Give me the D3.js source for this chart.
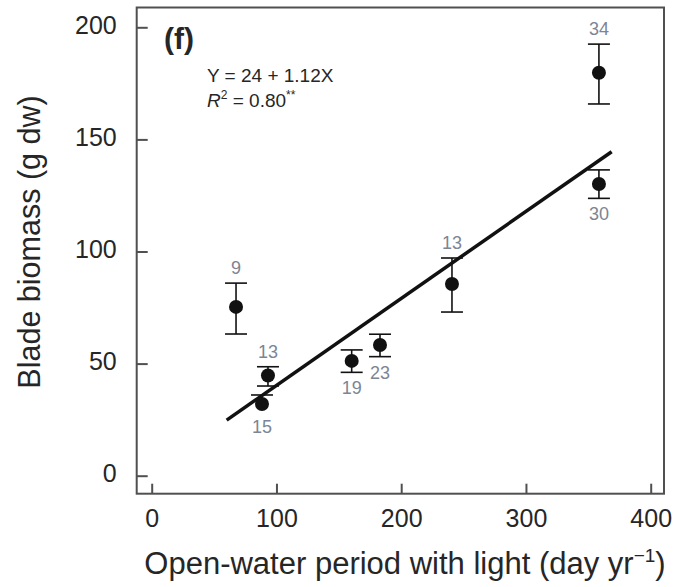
<!DOCTYPE html>
<html><head><meta charset="utf-8">
<script src="https://cdn.jsdelivr.net/npm/d3@7/dist/d3.min.js"></script>
<style>body{margin:0;background:#fff}svg{display:block}text{font-family:"Liberation Sans",Arial,sans-serif}</style>
</head><body>
<script>
const xVals = [67.6, 93.2, 88.4, 160.3, 183, 240.7, 358.5, 358.5];
const yVals = [75.3, 44.7, 32.0, 51.2, 58.3, 85.5, 179.7, 130.1];
const yHi   = [85.9, 48.6, 36.0, 56.1, 63.1, 97.1, 192.5, 136.4];
const yLo   = [63.2, 40.0, null, 46.1, 53.1, 73.0, 165.8, 123.7];
const nLabels = ["9", "13", "15", "19", "23", "13", "34", "30"];
const labelPos = ["above", "above", "below", "below", "below", "above", "above", "below"];
const fitX = [60.1, 368.7];
const fitY = [24.8, 144.5];
const xTicks = [0, 100, 200, 300, 400];
const yTicks = [0, 50, 100, 150, 200];

const W = 677, H = 587;
const svg = d3.select("body").append("svg").attr("width", W).attr("height", H);
const x = d3.scaleLinear().domain([0, 400]).range([151.7, 650.7]);
const y = d3.scaleLinear().domain([0, 200]).range([475.7, 27.3]);
const L = 136.7, R = 664, T = 7.5, B = 493.7;
const ink = "#262626";

// frame
svg.append("rect").attr("x", L).attr("y", T).attr("width", R - L).attr("height", B - T)
  .attr("fill", "none").attr("stroke", "#505050").attr("stroke-width", 2);

// x ticks (pointing up from bottom)
const xa = svg.append("g").attr("transform", `translate(0,${B})`)
  .call(d3.axisBottom(x).tickValues(xTicks).tickSize(-10).tickPadding(0).tickFormat(d3.format("d")));
xa.select(".domain").remove();
xa.selectAll("line").attr("stroke", "#505050").attr("stroke-width", 2);
xa.selectAll("text").attr("font-size", 25).attr("fill", ink).attr("y", 33).attr("dy", null);

// y ticks (pointing right from left)
const ya = svg.append("g").attr("transform", `translate(${L},0)`)
  .call(d3.axisLeft(y).tickValues(yTicks).tickSize(-11).tickPadding(0).tickFormat(d3.format("d")));
ya.select(".domain").remove();
ya.selectAll("line").attr("stroke", "#505050").attr("stroke-width", 2);
ya.selectAll("text").attr("font-size", 25).attr("fill", ink).attr("x", -20).attr("dy", null).attr("y", 6);

// axis titles
const xt = svg.append("text").attr("x", 405).attr("y", 574).attr("text-anchor", "middle")
  .attr("font-size", 31).attr("fill", ink);
xt.append("tspan").text("Open-water period with light (day yr");
xt.append("tspan").text("\u22121").attr("font-size", 19).attr("dy", -12);
xt.append("tspan").text(")").attr("dy", 12);

svg.append("text").attr("transform", "translate(40,242) rotate(-90)").attr("text-anchor", "middle")
  .attr("font-size", 30.5).attr("fill", ink).text("Blade biomass (g dw)");

// panel label and equation
svg.append("text").attr("x", 164).attr("y", 49).attr("font-size", 30).attr("font-weight", "bold")
  .attr("fill", ink).text("(f)");
svg.append("text").attr("x", 207).attr("y", 82).attr("font-size", 19).attr("fill", ink).text("Y = 24 + 1.12X");
const r2 = svg.append("text").attr("x", 207).attr("y", 107).attr("font-size", 19).attr("fill", ink);
r2.append("tspan").text("R").attr("font-style", "italic");
r2.append("tspan").text("2").attr("font-size", 12).attr("dy", -8);
r2.append("tspan").text(" = 0.80").attr("dy", 8);
r2.append("tspan").text("**").attr("font-size", 12).attr("dy", -8);

// regression line
svg.append("line").attr("x1", x(fitX[0])).attr("y1", y(fitY[0])).attr("x2", x(fitX[1])).attr("y2", y(fitY[1]))
  .attr("stroke", "#111").attr("stroke-width", 3.5);

// error bars
const idx = d3.range(xVals.length);
const eb = svg.append("g").attr("stroke", "#111").attr("stroke-width", 1.6);
idx.forEach(i => {
  const cx = x(xVals[i]);
  const hi = yHi[i] == null ? yVals[i] : yHi[i];
  const lo = yLo[i] == null ? yVals[i] : yLo[i];
  eb.append("line").attr("x1", cx).attr("x2", cx).attr("y1", y(hi)).attr("y2", y(lo));
  [yHi[i], yLo[i]].filter(v => v != null)
    .forEach(v => eb.append("line").attr("x1", cx - 11).attr("x2", cx + 11).attr("y1", y(v)).attr("y2", y(v)));
});

// points
svg.append("g").selectAll("circle").data(idx).join("circle")
  .attr("cx", i => x(xVals[i])).attr("cy", i => y(yVals[i])).attr("r", 7).attr("fill", "#111");

// n labels
svg.append("g").selectAll("text").data(idx).join("text")
  .attr("x", i => x(xVals[i]))
  .attr("y", i => labelPos[i] === "above"
      ? y(yHi[i]) - 9
      : (yLo[i] == null ? y(yVals[i]) + 7 : y(yLo[i])) + 22)
  .attr("text-anchor", "middle").attr("font-size", 18).attr("fill", "#7c8594")
  .text(i => nLabels[i]);
</script>
</body></html>
